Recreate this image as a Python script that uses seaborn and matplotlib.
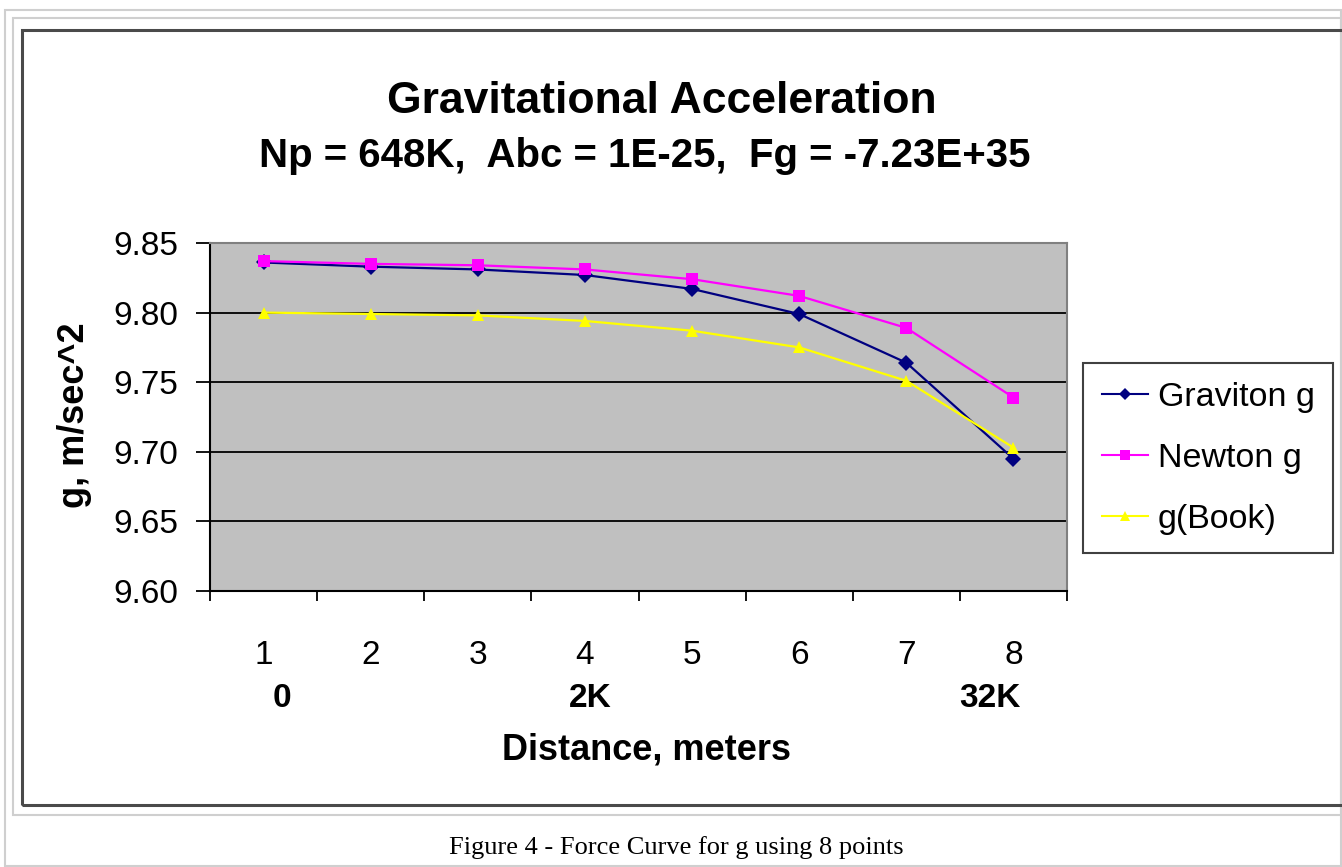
import matplotlib
matplotlib.use("Agg")
import matplotlib.pyplot as plt
import matplotlib.transforms as mtransforms
from matplotlib.patches import Rectangle
import seaborn as sns
import pandas as pd

# ---- data ----
points = [1, 2, 3, 4, 5, 6, 7, 8]
graviton_g = [9.836, 9.833, 9.831, 9.827, 9.817, 9.799, 9.764, 9.695]
newton_g = [9.837, 9.835, 9.834, 9.831, 9.824, 9.812, 9.789, 9.739]
book_g = [9.800, 9.799, 9.798, 9.794, 9.787, 9.775, 9.751, 9.703]
series_names = ["Graviton g", "Newton g", "g(Book)"]
y_ticks = [9.60, 9.65, 9.70, 9.75, 9.80, 9.85]
dist_labels = ["0", "2K", "32K"]
dist_label_points = [1, 4, 8]

title = "Gravitational Acceleration"
subtitle = "Np = 648K,  Abc = 1E-25,  Fg = -7.23E+35"
caption = "Figure 4 - Force Curve for g using 8 points"

df = pd.DataFrame({
    "point": points * 3,
    "g": graviton_g + newton_g + book_g,
    "series": [series_names[0]] * 8 + [series_names[1]] * 8 + [series_names[2]] * 8,
})

plt.rcParams["font.family"] = ["Liberation Sans", "DejaVu Sans"]

W, H = 1342, 867
fig = plt.figure(figsize=(W / 100, H / 100), dpi=100)
fig.patch.set_facecolor("white")

def fx(px):
    return px / W

def fy(py):
    return 1 - py / H

# frames
fig.patches.append(Rectangle((fx(5), fy(866)), fx(1341) - fx(5), fy(10) - fy(866),
                             transform=fig.transFigure, fill=False, edgecolor="#cfcfcf", lw=1.5))
fig.patches.append(Rectangle((fx(13), fy(815)), fx(1341) - fx(13), fy(18) - fy(815),
                             transform=fig.transFigure, fill=False, edgecolor="#cfcfcf", lw=1.5))
fig.patches.append(Rectangle((fx(22), fy(805)), fx(1345) - fx(22), fy(30) - fy(805),
                             transform=fig.transFigure, fill=False, edgecolor="#4a4a4a", lw=2.2))

ax = fig.add_axes([fx(210), fy(591), fx(1067) - fx(210), fy(243) - fy(591)])
ax.set_facecolor("#c0c0c0")

palette = {"Graviton g": "#000080", "Newton g": "#ff00ff", "g(Book)": "#ffff00"}
markers = {"Graviton g": "D", "Newton g": "s", "g(Book)": "^"}

sns.lineplot(data=df, x="point", y="g", hue="series", style="series",
             palette=palette, markers=markers, dashes=False, lw=1.6,
             markersize=8.5, markeredgewidth=0, ax=ax, zorder=3)

ax.set_xlim(0.5, 8.5)
ax.set_ylim(9.60, 9.85)
ax.set_yticks(y_ticks)
ax.set_yticklabels([f"{v:.2f}" for v in y_ticks])
ax.set_xticks(points)
ax.set_xticklabels([str(p) for p in points])
ax.set_xticks([p - 0.5 for p in points] + [points[-1] + 0.5], minor=True)
ax.tick_params(axis="x", which="major", length=0, pad=35, labelsize=24)
ax.tick_params(axis="x", which="minor", length=7, width=1.3, direction="out", color="black")
ax.tick_params(axis="y", which="major", length=10, width=1.3, pad=13, labelsize=24)
ax.set_xlabel("")
ax.set_ylabel("")

for yv in y_ticks[1:-1]:
    ax.axhline(yv, color="black", lw=1.3, zorder=1)

for side in ["left", "bottom"]:
    ax.spines[side].set_color("black")
    ax.spines[side].set_linewidth(1.5)
for side in ["top", "right"]:
    ax.spines[side].set_color("#808080")
    ax.spines[side].set_linewidth(1.5)

# secondary distance labels
trans = mtransforms.blended_transform_factory(ax.transData, ax.transAxes)
offsets = [0.17, 0.05, -0.22]
for lab, p, off in zip(dist_labels, dist_label_points, offsets):
    ax.text(p + off, -0.31, lab, transform=trans, ha="center", va="center",
            fontsize=24, fontweight="bold")

# titles and labels
fig.text(fx(662), fy(113), title, ha="center", va="baseline", fontsize=32, fontweight="bold")
fig.text(fx(645), fy(167), subtitle, ha="center", va="baseline", fontsize=29, fontweight="bold")
fig.text(fx(74), fy(415), "g, m/sec^2", rotation=90, ha="center", va="center",
         fontsize=26, fontweight="bold")
fig.text(fx(646), fy(750), "Distance, meters", ha="center", va="center",
         fontsize=26, fontweight="bold")
fig.text(fx(676), fy(848), caption, ha="center", va="center", fontsize=19,
         family=["Liberation Serif", "DejaVu Serif"])

# legend
handles, labels = ax.get_legend_handles_labels()
leg = ax.legend(handles, labels, loc="upper left",
                bbox_to_anchor=(fx(1083), fy(363)), bbox_transform=fig.transFigure,
                fontsize=24.5, frameon=True, fancybox=False, framealpha=1,
                edgecolor="#404040", facecolor="white", handlelength=1.35,
                handletextpad=0.3, labelspacing=0.88, borderpad=0.55, borderaxespad=0)
leg.get_frame().set_linewidth(1.5)
for h in leg.legend_handles:
    h.set_markersize(6.5)
    h.set_linewidth(1.5)

fig.savefig("out.png", dpi=100)
